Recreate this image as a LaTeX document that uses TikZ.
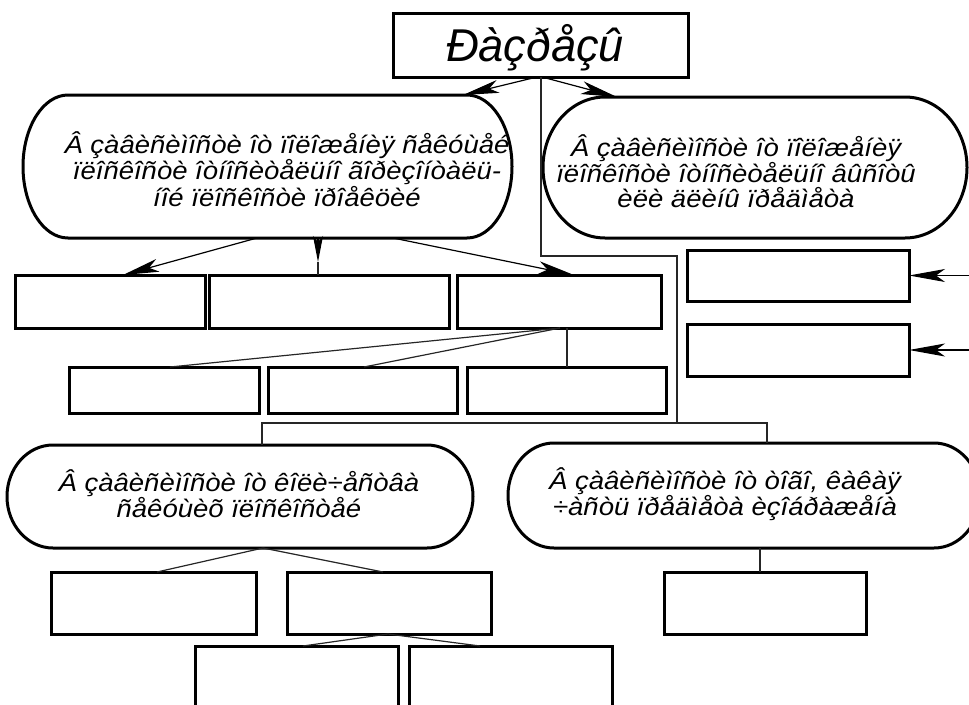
\documentclass[tikz,border=0pt]{standalone}
\usepackage{fontspec}
\usetikzlibrary{arrows.meta,calc}
\newfontfamily\diagfont{Liberation Sans}[FakeStretch=1.1]
\newfontfamily\titlefont{Liberation Sans}[FakeStretch=0.98]
\newcommand\drawstadium[3]{%
  \draw[outline] ([xshift=#2pt]#1.north west) -- ([xshift=-#2pt]#1.north east)
    arc[start angle=-90,end angle=90,x radius=#2,y radius=#3]
    -- ([xshift=#2pt]#1.south west)
    arc[start angle=90,end angle=270,x radius=#2,y radius=#3] -- cycle;}
\tikzset{
  outline/.style={line width=3pt, line join=round},
  boxnode/.style={draw, line width=3pt, inner sep=0pt, outer sep=0pt},
  stadnode/.style={draw=none, inner sep=0pt, outer sep=0pt, rectangle},
  bodytext/.style={align=center, inner sep=0pt, font=\diagfont\itshape\fontsize{25}{24.5}\selectfont},
  titletext/.style={inner sep=0pt, font=\titlefont\itshape\fontsize{46}{50}\selectfont},
  conn/.style={line width=1.2pt, black!85},
  arr/.style={line width=1.2pt, -{Stealth[length=36pt,width=13pt,inset=9pt]}},
  arrshort/.style={line width=1.2pt, -{Stealth[length=26pt,width=10pt,inset=6pt]}}
}
\begin{document}
\begin{tikzpicture}[x=1pt,y=-1pt]
\useasboundingbox (0,0) rectangle (969,704);
\clip (0,0) rectangle (969,704);
% title
\node[boxnode, minimum width=295pt, minimum height=64pt] (T) at (540.5,45) {};
\node[titletext] (Tt) at (535,48) {Ðàçðåçû};
% top stadiums
\node[stadnode, minimum width=489pt, minimum height=143pt] (L1) at (267.5,166.5) {};
\drawstadium{L1}{45}{71.5}
\node[bodytext] (L1t) at (287,169) {Â çàâèñèìîñòè îò ïîëîæåíèÿ ñåêóùåé\\ ïëîñêîñòè îòíîñèòåëüíî ãîðèçîíòàëü-\\ íîé ïëîñêîñòè ïðîåêöèé};
\node[stadnode, minimum width=424pt, minimum height=141pt] (R1) at (755,167.5) {};
\drawstadium{R1}{62}{70.5}
\node[bodytext] (R1t) at (736,171) {Â çàâèñèìîñòè îò ïîëîæåíèÿ\\ ïëîñêîñòè îòíîñèòåëüíî âûñîòû\\ èëè äëèíû ïðåäìåòà};
% row 1 boxes
\node[boxnode, minimum width=190pt, minimum height=53pt] (B11) at (110,301.5) {};
\node[boxnode, minimum width=240pt, minimum height=53pt] (B12) at (329,301.5) {};
\node[boxnode, minimum width=204pt, minimum height=53pt] (B13) at (559,301.5) {};
% row 2 boxes
\node[boxnode, minimum width=190pt, minimum height=46pt] (B21) at (164,390) {};
\node[boxnode, minimum width=189pt, minimum height=46pt] (B22) at (362.5,390) {};
\node[boxnode, minimum width=199pt, minimum height=46pt] (B23) at (566.5,390) {};
% right boxes
\node[boxnode, minimum width=222pt, minimum height=51pt] (RA) at (798,275.5) {};
\node[boxnode, minimum width=222pt, minimum height=52pt] (RB) at (798,350) {};
% lower stadiums
\node[stadnode, minimum width=466pt, minimum height=103pt] (L2) at (240,496.5) {};
\drawstadium{L2}{46}{51.5}
\node[bodytext] (L2t) at (239,494) {Â çàâèñèìîñòè îò êîëè÷åñòâà\\ ñåêóùèõ ïëîñêîñòåé};
\node[stadnode, minimum width=472pt, minimum height=105pt] (R2) at (744,495.5) {};
\drawstadium{R2}{46}{52.5}
\node[bodytext] (R2t) at (725,494) {Â çàâèñèìîñòè îò òîãî, êàêàÿ\\ ÷àñòü ïðåäìåòà èçîáðàæåíà};
% row 3 boxes
\node[boxnode, minimum width=205pt, minimum height=62pt] (B31) at (153.5,603) {};
\node[boxnode, minimum width=204pt, minimum height=62pt] (B32) at (389,603) {};
\node[boxnode, minimum width=202pt, minimum height=62pt] (B33) at (765,603) {};
% row 4 boxes
\node[boxnode, minimum width=203pt, minimum height=74pt] (B41) at (296.5,683) {};
\node[boxnode, minimum width=203pt, minimum height=74pt] (B42) at (510.5,683) {};
% helper coordinates
\coordinate (j1) at (677,256);
\coordinate (j2) at (677,423);
\coordinate (m12) at (318,262);
\coordinate (ea) at (975,275.5);
\coordinate (eb) at (975,350);
% connectors from title
\draw[arr] ([xshift=-3.5pt]T.south) -- ([xshift=195.5pt]L1.north);
\draw[arr] ([xshift=1.5pt]T.south) -- ([xshift=-138pt]R1.north);
\draw[conn] ([xshift=0.5pt]T.south) |- (j1) -- (j2);
\draw[conn] (j2) -| ([xshift=22pt]L2.north);
\draw[conn] (j2) -| ([xshift=23pt]R2.north);
% from L1
\draw[arr] ([xshift=-10.5pt]L1.south) -- ([xshift=13pt]B11.north);
\draw[arrshort] ([xshift=50.5pt]L1.south) -- (m12);
\draw[conn] (m12) -- ([xshift=-11pt]B12.north);
\draw[arr] ([xshift=125.5pt]L1.south) -- ([xshift=15pt]B13.north);
% from B13
\draw[conn] ([xshift=1pt]B13.south) -- ([xshift=6pt]B21.north);
\draw[conn] ([xshift=1pt]B13.south) -- ([xshift=1.5pt]B22.north);
\draw[conn] ([xshift=8pt]B13.south) -- ([xshift=0.5pt]B23.north);
% right arrows
\draw[arr] (ea) -- (RA.east);
\draw[arr] (eb) -- (RB.east);
% from L2
\draw[conn] ([xshift=23pt]L2.south) -- ([xshift=3.5pt]B31.north);
\draw[conn] ([xshift=23pt]L2.south) -- ([xshift=-6pt]B32.north);
% from B32
\draw[conn] ([xshift=-1pt]B32.south) -- ([xshift=6.5pt]B41.north);
\draw[conn] ([xshift=-1pt]B32.south) -- ([xshift=-30.5pt]B42.north);
% from R2
\draw[conn] ([xshift=16pt]R2.south) -- ([xshift=-5pt]B33.north);
\end{tikzpicture}
\end{document}
